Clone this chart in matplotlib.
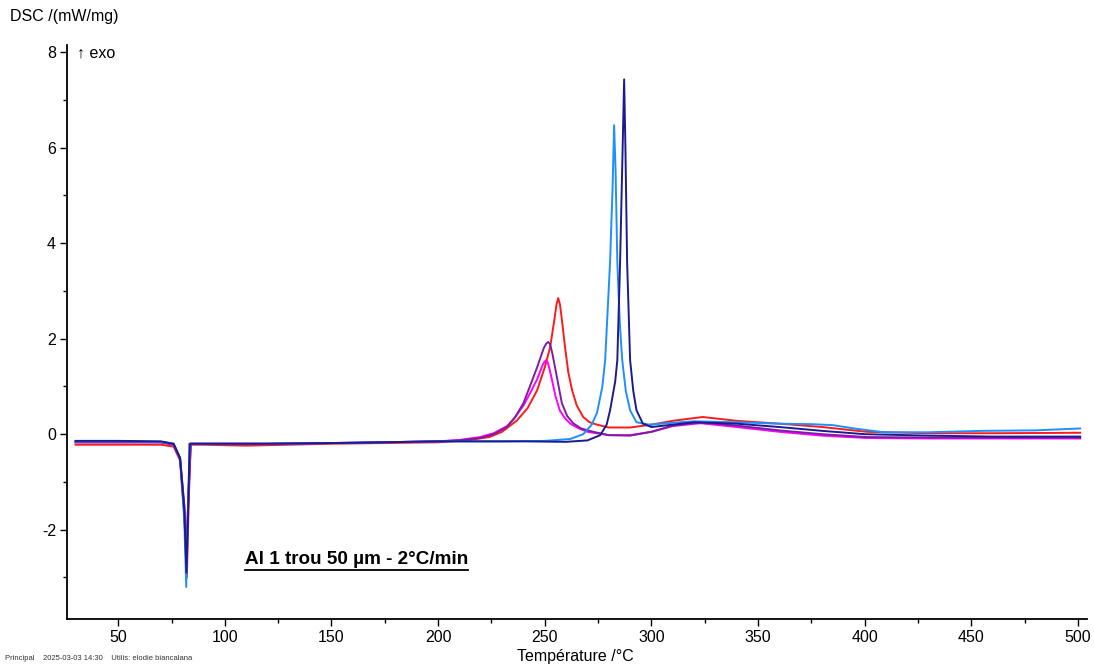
import matplotlib
matplotlib.use("Agg")
import matplotlib.pyplot as plt
from matplotlib.lines import Line2D
from matplotlib.ticker import MultipleLocator

plt.rcParams['font.family'] = ['Liberation Sans', 'DejaVu Sans']
plt.rcParams['axes.unicode_minus'] = False

# curves: temperature (°C) / DSC (mW/mg)
t_blue = [30, 50, 70, 76, 79, 81, 81.9, 82.5, 83.5, 90, 120, 160, 200, 230, 250, 262, 268, 272,
          274.5, 277, 278.3, 280.6, 281.8, 282.5, 283.2, 284, 285.2, 286.3, 288, 290, 293, 299,
          310, 320, 340, 360, 375, 385, 395, 409, 430, 455, 480, 501]
y_blue = [-0.15, -0.15, -0.16, -0.2, -0.5, -1.8, -3.2, -2.0, -0.2, -0.2, -0.2, -0.18, -0.15,
          -0.15, -0.14, -0.1, 0.0, 0.2, 0.45, 1.0, 1.55, 3.6, 5.2, 6.47, 5.5, 3.6, 2.3, 1.55,
          0.9, 0.5, 0.25, 0.2, 0.24, 0.27, 0.25, 0.22, 0.21, 0.19, 0.12, 0.04, 0.04, 0.07, 0.08, 0.12]

t_navy = [30, 50, 70, 76, 79, 81, 82, 82.7, 83.5, 90, 120, 160, 200, 240, 260, 270, 276, 279,
          280.6, 283, 284, 285.3, 286.5, 287.2, 287.8, 288.6, 290, 291.5, 293, 296, 300, 310,
          320, 340, 360, 380, 400, 430, 460, 501]
y_navy = [-0.14, -0.14, -0.15, -0.2, -0.5, -1.6, -2.9, -1.8, -0.2, -0.2, -0.2, -0.18, -0.15,
          -0.15, -0.16, -0.13, -0.02, 0.2, 0.5, 1.1, 1.55, 3.6, 6.0, 7.43, 6.0, 3.6, 1.55, 0.9,
          0.5, 0.22, 0.15, 0.2, 0.25, 0.22, 0.15, 0.07, 0.0, -0.03, -0.05, -0.05]

t_red = [30, 50, 70, 76, 79, 81, 82.2, 83, 84, 90, 110, 150, 200, 215, 224, 230, 237, 242,
         246.4, 250, 252.5, 254.5, 255.5, 256.3, 257.1, 258, 259.5, 261, 262.8, 265, 268, 271,
         274.5, 280, 290, 300, 310, 324, 340, 360, 380, 401, 430, 460, 501]
y_red = [-0.22, -0.22, -0.22, -0.26, -0.55, -1.7, -3.0, -1.5, -0.22, -0.22, -0.24, -0.2, -0.17,
         -0.12, -0.06, 0.05, 0.29, 0.55, 0.92, 1.4, 1.82, 2.4, 2.72, 2.85, 2.72, 2.4, 1.82, 1.3,
         0.92, 0.6, 0.36, 0.25, 0.2, 0.14, 0.14, 0.2, 0.28, 0.36, 0.28, 0.22, 0.15, 0.05, 0.02,
         0.02, 0.03]

t_purple = [30, 50, 70, 76, 79, 81, 82, 83, 84, 90, 120, 160, 200, 210, 219.7, 226, 232.3,
            236, 240, 243, 246.4, 249.5, 250.7, 251.6, 252.5, 253.5, 254.8, 256.5, 258, 260.5,
            263.3, 267, 272.7, 280, 290, 300, 310, 323, 340, 360, 380, 401, 430, 460, 501]
y_purple = [-0.17, -0.17, -0.17, -0.22, -0.5, -1.5, -2.6, -1.2, -0.2, -0.2, -0.2, -0.18, -0.15,
            -0.13, -0.08, 0.0, 0.15, 0.35, 0.65, 1.0, 1.4, 1.8, 1.9, 1.93, 1.88, 1.7, 1.4, 1.0,
            0.65, 0.38, 0.23, 0.12, 0.05, -0.02, -0.03, 0.05, 0.18, 0.25, 0.18, 0.08, 0.0, -0.06,
            -0.07, -0.07, -0.07]

t_magenta = [30, 50, 70, 76, 79, 81, 82, 83, 84, 90, 120, 160, 200, 210, 219.7, 226, 232.3,
             236, 240, 243, 246.4, 249, 249.9, 250.6, 251.4, 252.3, 253.4, 255, 257, 259.5, 262,
             266, 270, 280, 290, 300, 310, 323, 340, 360, 380, 401, 430, 460, 501]
y_magenta = [-0.17, -0.17, -0.17, -0.22, -0.5, -1.5, -2.4, -1.2, -0.2, -0.2, -0.2, -0.18, -0.15,
             -0.12, -0.06, 0.02, 0.17, 0.35, 0.6, 0.85, 1.15, 1.45, 1.52, 1.55, 1.5, 1.35, 1.13,
             0.8, 0.5, 0.33, 0.22, 0.12, 0.05, -0.02, -0.02, 0.05, 0.17, 0.23, 0.15, 0.05, -0.03,
             -0.08, -0.09, -0.09, -0.09]

fig = plt.figure(figsize=(10.94, 6.64), dpi=100)
ax = fig.add_axes([67 / 1094, 1 - 619 / 664, 1020 / 1094, 574 / 664])

lw = 1.4
ax.plot(t_red, y_red, color='#ff1a1a', lw=lw)
ax.plot(t_magenta, y_magenta, color='#ff00ff', lw=lw)
ax.plot(t_purple, y_purple, color='#7b1fa2', lw=lw)
ax.plot(t_blue, y_blue, color='#1e8fff', lw=lw)
ax.plot(t_navy, y_navy, color='#1b1b8f', lw=lw)

ax.set_xlim(26, 504.2)
ax.set_ylim(-3.87, 8.15)
ax.xaxis.set_major_locator(MultipleLocator(50))
ax.xaxis.set_minor_locator(MultipleLocator(25))
ax.yaxis.set_major_locator(MultipleLocator(2))
ax.yaxis.set_minor_locator(MultipleLocator(1))
ax.tick_params(which='major', direction='out', length=5, width=1, labelsize=11.5, pad=3)
ax.tick_params(which='minor', direction='out', length=3, width=1)
for s in ['top', 'right']:
    ax.spines[s].set_visible(False)
for s in ['left', 'bottom']:
    ax.spines[s].set_linewidth(1.3)

fig.text(10 / 1094, 1 - 17 / 664, 'DSC /(mW/mg)', fontsize=11.5, ha='left', va='center')
fig.text(77 / 1094, 1 - 53 / 664, '↑ exo', fontsize=11.5, ha='left', va='center')
fig.text(575 / 1094, 1 - 656 / 664, 'Température /°C', fontsize=11.5, ha='center', va='center')
fig.text(5 / 1094, 1 - 659 / 664, 'Principal    2025-03-03 14:30    Utilis: elodie biancalana',
         fontsize=5.5, ha='left', va='center', color='#333333')

lab = ax.text(245 / 1094, 1 - 560 / 664, 'Al 1 trou 50 µm - 2°C/min', transform=fig.transFigure,
              fontsize=13.6, fontweight='bold', ha='left', va='center')
fig.canvas.draw()
bb = lab.get_window_extent()
yline = (bb.y0 - 1) / fig.bbox.height
fig.add_artist(Line2D([bb.x0 / fig.bbox.width, bb.x1 / fig.bbox.width], [yline, yline],
                      transform=fig.transFigure, color='black', lw=1.3))

fig.savefig('out.png', dpi=100)
